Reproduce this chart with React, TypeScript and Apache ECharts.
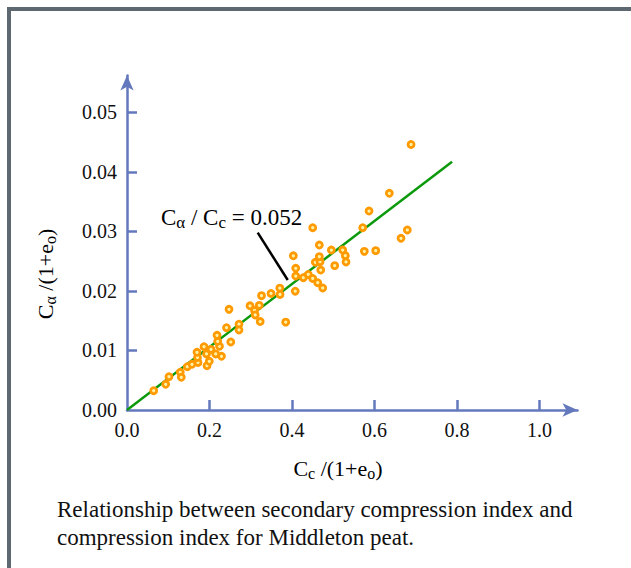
import React, { useEffect, useRef } from 'react';
import * as echarts from 'echarts';

// Cc/(1+eo) values
const ccValues = [
  0.0647, 0.0938, 0.1018, 0.1292, 0.1316, 0.1462, 0.1576, 0.1721, 0.1709, 0.1697,
  0.1867, 0.1927, 0.1939, 0.1995, 0.2036, 0.215, 0.2291, 0.2242, 0.2199, 0.2182,
  0.2412, 0.2516, 0.2473, 0.2715, 0.2715, 0.2982, 0.3091, 0.3108, 0.3207, 0.3229,
  0.3261, 0.3491, 0.3704, 0.3709, 0.3847, 0.4078, 0.4032, 0.409, 0.409, 0.4274,
  0.4395, 0.4502, 0.4623, 0.4744, 0.4696, 0.4565, 0.4679, 0.4662, 0.4662, 0.4502,
  0.5035, 0.4953, 0.5229, 0.5292, 0.5309, 0.5714, 0.5867, 0.5753, 0.6029, 0.6642,
  0.6795, 0.6359, 0.6885,
];
// Cα/(1+eo) values
const caValues = [
  0.00324, 0.00432, 0.00559, 0.00633, 0.00549, 0.00727, 0.00768, 0.00798, 0.00882, 0.00969,
  0.01063, 0.00941, 0.00744, 0.00818, 0.01019, 0.00941, 0.00902, 0.0107, 0.01154, 0.01255,
  0.01382, 0.01142, 0.01691, 0.01441, 0.01344, 0.0175, 0.01671, 0.01596, 0.01758, 0.01486,
  0.0192, 0.01957, 0.02046, 0.0194, 0.01475, 0.01995, 0.0259, 0.0238, 0.0225, 0.02222,
  0.02276, 0.02209, 0.02138, 0.02049, 0.02351, 0.02481, 0.02491, 0.02575, 0.02771, 0.03062,
  0.02424, 0.02687, 0.02687, 0.02592, 0.02486, 0.03062, 0.03342, 0.02665, 0.02676, 0.02884,
  0.03023, 0.0364, 0.04459,
];
const fitLineX = [0, 0.788];
const fitLineY = [0, 0.0417];
const pointerX = [0.3168, 0.3896];
const pointerY = [0.02978, 0.02183];
const xTickValues = [0.2, 0.4, 0.6, 0.8, 1.0];
const xLabelValues = [0, 0.2, 0.4, 0.6, 0.8, 1.0];
const yTickValues = [0.01, 0.02, 0.03, 0.04, 0.05];
const yLabelValues = [0, 0.01, 0.02, 0.03, 0.04, 0.05];
const annotationText = '{m|C}{s|α}{m| / C}{s|c}{m| = 0.052}';
const xNameText = '{m|C}{s|c}{m| /(1+e}{s|o}{m|)}';
const yNameText = '{m|C}{s|α}{m| /(1+e}{s|o}{m|)}';
const captionLines = [
  'Relationship between secondary compression index and',
  'compression index for Middleton peat.',
];

const FONT = '"Liberation Serif", "Times New Roman", serif';
const AXIS_COLOR = '#6479bd';
const TEXT_COLOR = '#111111';

function richStyle(main: number, sub: number) {
  return {
    m: { fontSize: main, fontFamily: FONT, color: TEXT_COLOR, lineHeight: main + 4 },
    s: {
      fontSize: sub,
      fontFamily: FONT,
      color: TEXT_COLOR,
      lineHeight: sub,
      verticalAlign: 'bottom',
    },
  };
}

export default function App() {
  const ref = useRef<HTMLDivElement>(null);

  useEffect(() => {
    if (!ref.current) return;
    const chart = echarts.init(ref.current, undefined, { renderer: 'svg' });
    const axisCommon = {
      type: 'value',
      min: 0,
      splitLine: { show: false },
      axisLine: {
        show: true,
        symbol: ['none', 'arrow'],
        symbolSize: [10, 15],
        lineStyle: { color: AXIS_COLOR, width: 2.5 },
      },
    };
    chart.setOption({
      animation: false,
      backgroundColor: '#ffffff',
      grid: { left: 127, right: 53.5, top: 75.5, bottom: 158 },
      xAxis: {
        ...axisCommon,
        max: 1.092,
        axisTick: {
          show: true,
          inside: true,
          length: 10,
          customValues: xTickValues,
          lineStyle: { color: AXIS_COLOR, width: 2.5 },
        },
        axisLabel: {
          customValues: xLabelValues,
          formatter: (v: number) => v.toFixed(1),
          color: TEXT_COLOR,
          fontSize: 20,
          fontFamily: FONT,
          margin: 10,
        },
      },
      yAxis: {
        ...axisCommon,
        max: 0.05618,
        axisTick: {
          show: true,
          inside: true,
          length: 10,
          customValues: yTickValues,
          lineStyle: { color: AXIS_COLOR, width: 2.5 },
        },
        axisLabel: {
          customValues: yLabelValues,
          formatter: (v: number) => v.toFixed(2),
          color: TEXT_COLOR,
          fontSize: 20,
          fontFamily: FONT,
          margin: 10,
        },
      },
      series: [
        {
          type: 'line',
          data: fitLineX.map((x, i) => [x, fitLineY[i]]),
          showSymbol: false,
          symbol: 'none',
          lineStyle: { color: '#0c9a0c', width: 2.5 },
          z: 2,
        },
        {
          type: 'line',
          data: pointerX.map((x, i) => [x, pointerY[i]]),
          showSymbol: false,
          symbol: 'none',
          lineStyle: { color: '#000000', width: 2.5 },
          z: 2,
        },
        {
          type: 'scatter',
          data: ccValues.map((x, i) => [x, caValues[i]]),
          symbol: 'circle',
          symbolSize: 6,
          itemStyle: { color: '#fff3a8', borderColor: '#ff9a00', borderWidth: 2.8, opacity: 1 },
          z: 3,
        },
      ],
      graphic: [
        {
          type: 'rect',
          shape: { x: 9, y: 9, width: 700, height: 700 },
          style: { fill: 'none', stroke: '#5d6870', lineWidth: 4 },
          silent: true,
        },
        {
          type: 'text',
          x: 161,
          y: 217,
          style: {
            text: annotationText,
            rich: richStyle(23, 17),
            textAlign: 'left',
            textVerticalAlign: 'middle',
          },
        },
        {
          type: 'text',
          x: 338,
          y: 468,
          style: {
            text: xNameText,
            rich: richStyle(22, 16),
            textAlign: 'center',
            textVerticalAlign: 'middle',
          },
        },
        {
          type: 'text',
          x: 45,
          y: 274,
          rotation: Math.PI / 2,
          style: {
            text: yNameText,
            rich: richStyle(22, 16),
            textAlign: 'center',
            textVerticalAlign: 'middle',
          },
        },
        ...captionLines.map((line, i) => ({
          type: 'text',
          x: 57,
          y: 509 + i * 28,
          style: {
            text: line,
            fontSize: 23,
            fontFamily: FONT,
            fill: TEXT_COLOR,
            textAlign: 'left',
            textVerticalAlign: 'middle',
          },
        })),
      ],
    });
    return () => chart.dispose();
  }, []);

  return (
    <div
      ref={ref}
      style={{ position: 'fixed', left: 0, top: 0, width: 631, height: 568 }}
    />
  );
}
